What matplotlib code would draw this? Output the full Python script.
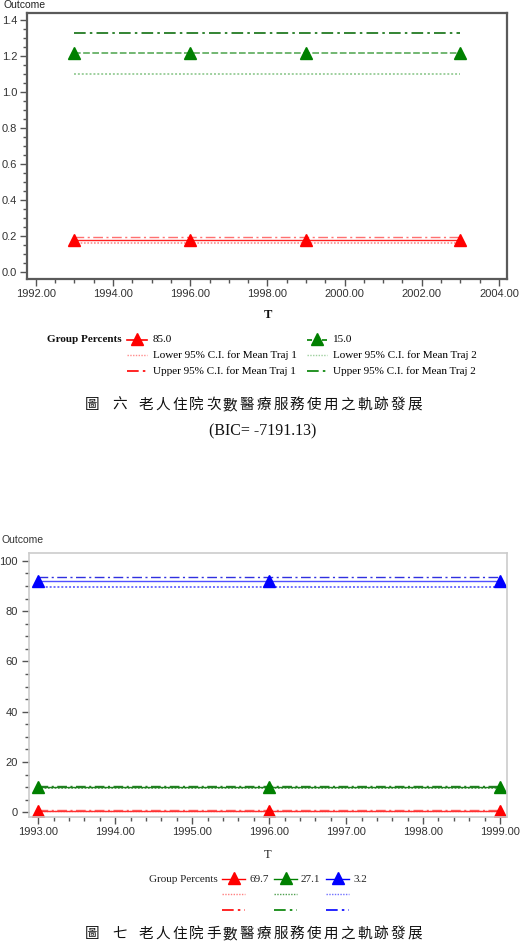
import matplotlib
matplotlib.use('Agg')
import matplotlib.pyplot as plt
from matplotlib.lines import Line2D
from matplotlib.ticker import MultipleLocator, FormatStrFormatter

W, H = 528, 943

# figure 6 : admissions, two groups
t1       = [1993, 1996, 1999, 2003]
g1_mean1 = [0.175, 0.175, 0.175, 0.175]
g1_low1  = [0.163, 0.163, 0.163, 0.163]
g1_up1   = [0.192, 0.192, 0.192, 0.192]
g2_mean1 = [1.215, 1.215, 1.215, 1.215]
g2_low1  = [1.098, 1.098, 1.098, 1.098]
g2_up1   = [1.326, 1.326, 1.326, 1.326]
pcts1    = ['85.0', '15.0']
ci_labels1 = ['Lower 95% C.I. for Mean Traj 1', 'Lower 95% C.I. for Mean Traj 2',
              'Upper 95% C.I. for Mean Traj 1', 'Upper 95% C.I. for Mean Traj 2']
caption1 = '圖 六 老人住院次數醫療服務使用之軌跡發展'
bic1     = '(BIC= -7191.13)'

# figure 7 : three groups
t2       = [1993, 1996, 1999]
g1_mean2 = [0.6, 0.6, 0.6]
g1_low2  = [0.4, 0.4, 0.4]
g1_up2   = [0.8, 0.8, 0.8]
g2_mean2 = [10.0, 10.0, 10.0]
g2_low2  = [9.7, 9.7, 9.7]
g2_up2   = [10.4, 10.4, 10.4]
g3_mean2 = [91.9, 91.9, 91.9]
g3_low2  = [89.6, 89.6, 89.6]
g3_up2   = [93.6, 93.6, 93.6]
pcts2    = ['69.7', '27.1', '3.2']
caption2 = '圖 七 老人住院手數醫療服務使用之軌跡發展'

SANS = ['Liberation Sans', 'DejaVu Sans']
SERIF = ['Liberation Serif', 'DejaVu Serif']
CJK = ['Noto Sans CJK TC', 'DejaVu Sans']

DASHDOT = (0, (7, 2.5, 1.5, 2.5))
DOT = (0, (1, 1))

def fx(x):
    return x / W

def fy(y):
    return 1 - y / H

fig = plt.figure(figsize=(W / 100, H / 100), dpi=100)

def style_axes(ax, spine_col, spine_lw, lab_col):
    for s in ax.spines.values():
        s.set_color(spine_col)
        s.set_linewidth(spine_lw)
    ax.tick_params(which='both', direction='out', colors='#555555', labelcolor=lab_col,
                   labelsize=8, pad=2)
    ax.tick_params(which='major', length=5, width=1)
    ax.tick_params(which='minor', length=3, width=1)
    for lb in ax.get_xticklabels() + ax.get_yticklabels():
        lb.set_family(SANS)

def leg_line(x0, x1, y, color, ls, lw=1.2, marker=False):
    fig.add_artist(Line2D([fx(x0), fx(x1)], [fy(y), fy(y)], transform=fig.transFigure,
                          color=color, ls=ls, lw=lw))
    if marker:
        fig.add_artist(Line2D([fx((x0 + x1) / 2)], [fy(y - 1)], transform=fig.transFigure,
                              marker='^', ms=8, color=color, ls='none'))

def spaced_text(s, x0, y, pitch, space):
    x = x0
    for ch in s:
        if ch == ' ':
            x += space
            continue
        fig.text(fx(x + pitch / 2), fy(y), ch, ha='center', va='center',
                 fontsize=10.5, family=CJK, color='#111111')
        x += pitch

# ---------------- chart 1 ----------------
ax1 = fig.add_axes([fx(27), fy(279), fx(507) - fx(27), fy(13) - fy(279)])
ax1.plot(t1, g1_low1, color='#ff8c8c', ls=DOT, lw=1.2)
ax1.plot(t1, g1_up1, color='#ff7070', ls=DASHDOT, lw=1.0)
ax1.plot(t1, g1_mean1, color='#ff2020', lw=1.0, marker='^', ms=8,
         markerfacecolor='red', markeredgecolor='red')
ax1.plot(t1, g2_low1, color='#9ed09e', ls=DOT, lw=1.4)
ax1.plot(t1, g2_up1, color='#107010', ls=DASHDOT, lw=1.2)
ax1.plot(t1, g2_mean1, color='#5aaa5a', ls=(0, (4, 1.5)), lw=1.2, marker='^', ms=8,
         markerfacecolor='green', markeredgecolor='green')
ax1.set_xlim(1991.77, 2004.21)
ax1.set_ylim(-0.039, 1.439)
ax1.xaxis.set_major_locator(MultipleLocator(2))
ax1.xaxis.set_minor_locator(MultipleLocator(0.5))
ax1.yaxis.set_major_locator(MultipleLocator(0.2))
ax1.yaxis.set_minor_locator(MultipleLocator(0.05))
ax1.xaxis.set_major_formatter(FormatStrFormatter('%.2f'))
ax1.yaxis.set_major_formatter(FormatStrFormatter('%.1f'))
style_axes(ax1, '#5a5a5a', 1.6, '#333333')

fig.text(fx(3), fy(5), 'Outcome', ha='left', va='center', fontsize=7.5,
         family=SANS, color='#222222')
fig.text(fx(268), fy(315), 'T', ha='center', va='center', fontsize=9,
         family=SERIF, weight='bold', color='#111111')

# legend chart 1
fig.text(fx(122), fy(340), 'Group Percents', ha='right', va='center', fontsize=8,
         family=SERIF, weight='bold', color='#111111')
leg_line(127, 147, 340, 'red', '-', marker=True)
fig.text(fx(153), fy(340), pcts1[0], ha='left', va='center', fontsize=8, family=SERIF)
leg_line(307, 327, 340, 'green', (0, (3, 1.5)), marker=True)
fig.text(fx(333), fy(340), pcts1[1], ha='left', va='center', fontsize=8, family=SERIF)
leg_line(127, 147, 355, '#ff8c8c', DOT, lw=1.0)
fig.text(fx(153), fy(355), ci_labels1[0], ha='left', va='center', fontsize=8, family=SERIF)
leg_line(307, 327, 355, '#9ed09e', DOT, lw=1.0)
fig.text(fx(333), fy(355), ci_labels1[1], ha='left', va='center', fontsize=8, family=SERIF)
leg_line(127, 147, 371, 'red', DASHDOT)
fig.text(fx(153), fy(371), ci_labels1[2], ha='left', va='center', fontsize=8, family=SERIF)
leg_line(307, 327, 371, 'green', DASHDOT)
fig.text(fx(333), fy(371), ci_labels1[3], ha='left', va='center', fontsize=8, family=SERIF)

spaced_text(caption1, 84, 405, 16.8, 10)
fig.text(fx(263), fy(431), bic1, ha='center', va='center', fontsize=11.5,
         family=SERIF, color='#111111')

# ---------------- chart 2 ----------------
ax2 = fig.add_axes([fx(29), fy(817), fx(507) - fx(29), fy(553) - fy(817)])
ax2.plot(t2, g1_low2, color='#ff8080', ls=DOT, lw=1.0)
ax2.plot(t2, g1_up2, color='#ff6060', ls=DASHDOT, lw=1.0)
ax2.plot(t2, g1_mean2, color='#ff3030', lw=1.0, marker='^', ms=8.5,
         markerfacecolor='red', markeredgecolor='red')
ax2.plot(t2, g2_low2, color='#50a050', ls=DOT, lw=1.2)
ax2.plot(t2, g2_up2, color='#208020', ls=DASHDOT, lw=1.0)
ax2.plot(t2, g2_mean2, color='#208020', lw=1.0, marker='^', ms=8.5,
         markerfacecolor='green', markeredgecolor='green')
ax2.plot(t2, g3_low2, color='#7070ff', ls=DOT, lw=1.4)
ax2.plot(t2, g3_up2, color='#3030e0', ls=DASHDOT, lw=1.0)
ax2.plot(t2, g3_mean2, color='#5050ff', lw=1.0, marker='^', ms=8.5,
         markerfacecolor='blue', markeredgecolor='blue')
ax2.set_xlim(1992.88, 1999.09)
ax2.set_ylim(-1.9, 103.1)
ax2.xaxis.set_major_locator(MultipleLocator(1))
ax2.xaxis.set_minor_locator(MultipleLocator(0.2))
ax2.yaxis.set_major_locator(MultipleLocator(20))
ax2.yaxis.set_minor_locator(MultipleLocator(5))
ax2.xaxis.set_major_formatter(FormatStrFormatter('%.2f'))
ax2.yaxis.set_major_formatter(FormatStrFormatter('%d'))
style_axes(ax2, '#cccccc', 1.2, '#333333')
ax2.tick_params(axis='y', which='major', pad=3)

fig.text(fx(2), fy(540), 'Outcome', ha='left', va='center', fontsize=7.5,
         family=SANS, color='#333333')
fig.text(fx(268), fy(855), 'T', ha='center', va='center', fontsize=9,
         family=SERIF, color='#222222')

# legend chart 2
fig.text(fx(218), fy(879), 'Group Percents', ha='right', va='center', fontsize=8,
         family=SERIF, color='#222222')
cols2 = ['red', 'green', 'blue']
light2 = ['#ff8080', '#50a050', '#7070ff']
xs2 = [222, 274, 326]
for i in range(3):
    x0 = xs2[i]
    leg_line(x0, x0 + 23, 879, cols2[i], '-', lw=1.0, marker=True)
    fig.text(fx(x0 + 27), fy(879), pcts2[i], ha='left', va='center', fontsize=8,
             family=SERIF, color='#222222')
    leg_line(x0, x0 + 23, 894, light2[i], DOT, lw=1.0)
    leg_line(x0, x0 + 23, 910, cols2[i], DASHDOT, lw=1.2)

spaced_text(caption2, 84, 934, 16.8, 10)

fig.savefig('out.png', dpi=100)
